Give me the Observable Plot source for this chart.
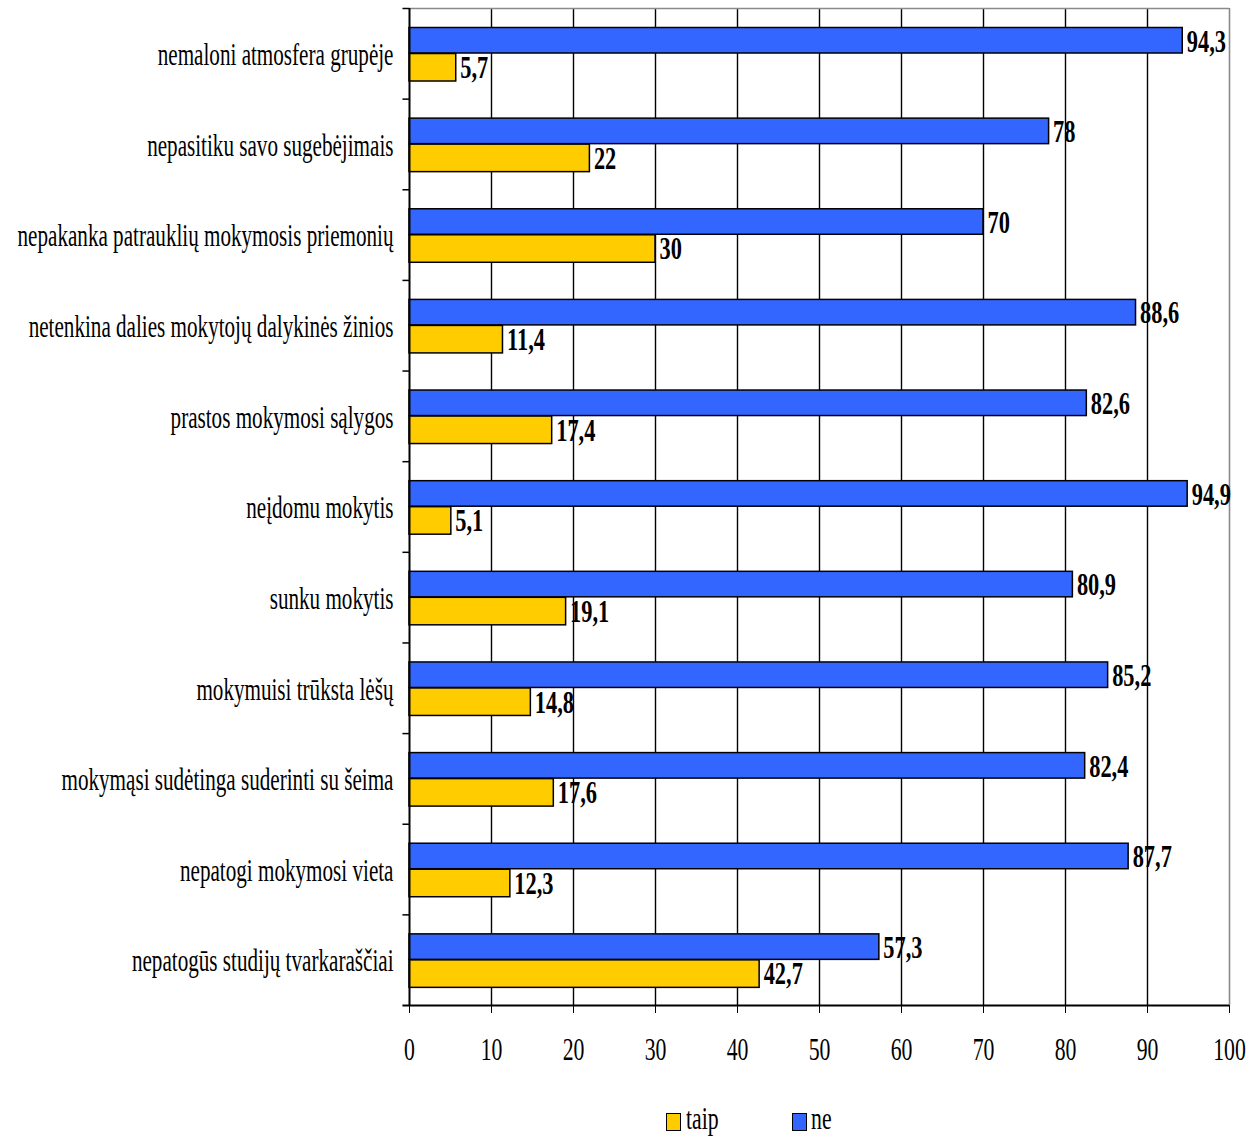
<!DOCTYPE html>
<html>
<head>
<meta charset="utf-8">
<script src="https://cdn.jsdelivr.net/npm/d3@7"></script>
<script src="https://cdn.jsdelivr.net/npm/@observablehq/plot@0.6"></script>
<style>
  html, body { margin: 0; padding: 0; background: #fff; }
  #wrap { position: relative; width: 1258px; height: 1139px; overflow: hidden; }
  #chart svg, #chart svg text { font-family: 'Liberation Serif', 'Times New Roman', serif !important; }
  #legend { position: absolute; left: 0; top: 1075px; width: 1258px; height: 64px; font-family: 'Liberation Serif', 'Times New Roman', serif; font-size: 32px; }
  .sw { position: absolute; top: 38px; width: 13px; height: 16px; border: 1.5px solid #000; }
  .lt { position: absolute; top: 27px; line-height: 32px; transform: scaleX(0.68); transform-origin: left center; white-space: nowrap; }
</style>
</head>
<body>
<div id="wrap">
  <div id="chart"></div>
  <div id="legend"></div>
</div>
<script>
const categories = [
  "nemaloni atmosfera grupėje",
  "nepasitiku savo sugebėjimais",
  "nepakanka patrauklių mokymosis priemonių",
  "netenkina dalies mokytojų dalykinės žinios",
  "prastos mokymosi sąlygos",
  "neįdomu mokytis",
  "sunku mokytis",
  "mokymuisi trūksta lėšų",
  "mokymąsi sudėtinga suderinti su šeima",
  "nepatogi mokymosi vieta",
  "nepatogūs studijų tvarkaraščiai"
];
const ne   = [94.3, 78, 70, 88.6, 82.6, 94.9, 80.9, 85.2, 82.4, 87.7, 57.3];
const taip = [5.7, 22, 30, 11.4, 17.4, 5.1, 19.1, 14.8, 17.6, 12.3, 42.7];
const xTicks = [0, 10, 20, 30, 40, 50, 60, 70, 80, 90, 100];
const seriesNames = ["taip", "ne"];
const seriesColors = ["#FFCC00", "#3366FF"];

const data = categories.map((c, i) => ({category: c, ne: ne[i], taip: taip[i]}));
const fmt = v => String(v).replace(".", ",");

const H = 1075, mT = 8, mB = 70;
const step = (H - mT - mB) / categories.length;
const last = categories[categories.length - 1];
const FONT = "'Liberation Serif', 'Times New Roman', serif";

const chart = Plot.plot({
  width: 1258,
  height: H,
  marginLeft: 409,
  marginRight: 29,
  marginTop: mT,
  marginBottom: mB,
  style: {fontFamily: FONT, fontSize: "32px", background: "#fff", color: "#000"},
  x: {domain: [0, 100]},
  y: {domain: categories, padding: 0, round: false},
  marks: [
    Plot.ruleX(xTicks.filter(d => d > 0 && d < 100), {stroke: "#000", strokeWidth: 1.4}),
    Plot.ruleX([100], {stroke: "#8a8a8a", strokeWidth: 1.6}),
    Plot.ruleY([categories[0]], {x1: 0, x2: 100, dy: -step / 2, stroke: "#8a8a8a", strokeWidth: 1.6}),
    Plot.barX(data, {x: "ne", y: "category", fill: seriesColors[1], stroke: "#000", strokeWidth: 1.5, insetTop: 19.5, insetBottom: step - 45}),
    Plot.barX(data, {x: "taip", y: "category", fill: seriesColors[0], stroke: "#000", strokeWidth: 1.5, insetTop: 45.5, insetBottom: step - 73}),
    Plot.text(data, {x: "ne", y: "category", text: d => fmt(d.ne), dx: 4, dy: -12.5, textAnchor: "start", fontWeight: "bold", fontSize: 32, fill: "#000"}),
    Plot.text(data, {x: "taip", y: "category", text: d => fmt(d.taip), dx: 4, dy: 14, textAnchor: "start", fontWeight: "bold", fontSize: 32, fill: "#000"}),
    Plot.ruleX([0], {stroke: "#000", strokeWidth: 2}),
    Plot.ruleY(categories, {x1: -0.8, x2: 0, dy: -step / 2, stroke: "#000", strokeWidth: 1.5}),
    Plot.ruleY([last], {x1: -0.8, x2: 100, dy: step / 2, stroke: "#000", strokeWidth: 2.2}),
    Plot.axisY({tickSize: 0, tickPadding: 16, label: null, dy: 1}),
    Plot.axisX({ticks: xTicks, tickSize: 8, tickPadding: 24, label: null, tickFormat: d => String(d)})
  ]
});

document.getElementById("chart").appendChild(chart);
chart.style.display = "block";
chart.querySelectorAll("text").forEach(t => {
  t.setAttribute("font-family", FONT);
  const g = t.closest("g[aria-label]");
  const lab = g ? g.getAttribute("aria-label") : "";
  let s = 0.68;
  if (lab.startsWith("y-axis")) s = 0.66;
  else if (t.closest("[font-weight]")) s = 0.70;
  const tr = t.getAttribute("transform") || "";
  t.setAttribute("transform", tr + ` scale(${s},1)`);
});

const legend = document.getElementById("legend");
const legendX = [{sw: 666, tx: 686}, {sw: 792, tx: 811}];
seriesNames.forEach((name, i) => {
  const sw = document.createElement("div");
  sw.className = "sw";
  sw.style.left = legendX[i].sw + "px";
  sw.style.background = seriesColors[i];
  legend.appendChild(sw);
  const tx = document.createElement("div");
  tx.className = "lt";
  tx.style.left = legendX[i].tx + "px";
  tx.textContent = name;
  legend.appendChild(tx);
});
</script>
</body>
</html>
